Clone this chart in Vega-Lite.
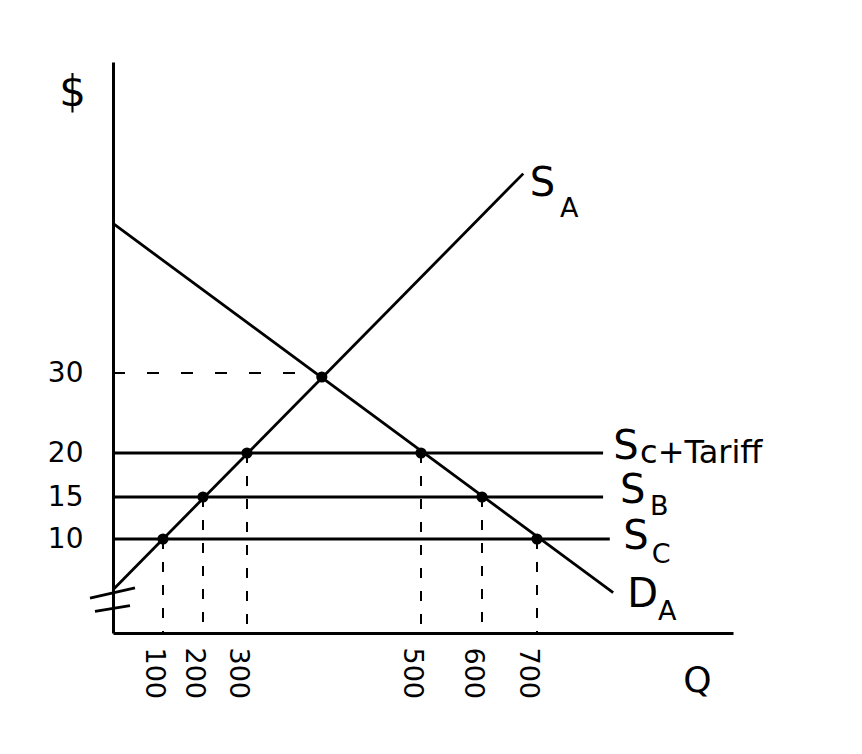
{
  "$schema": "https://vega.github.io/schema/vega-lite/v6.json",
  "width": 620,
  "height": 571,
  "autosize": {"type": "none"},
  "padding": {"left": 113, "top": 62, "right": 129, "bottom": 121},
  "background": "white",
  "config": {
    "view": {"stroke": null},
    "font": "DejaVu Sans",
    "axis": {"grid": false, "ticks": false, "tickSize": 0, "domainColor": "black", "domainWidth": 3, "labelColor": "black", "titleColor": "black", "labelFont": "DejaVu Sans", "titleFont": "DejaVu Sans", "titleFontWeight": "normal"}
  },
  "datasets": {
    "curves": [
      {"series": "S_A", "q": 0, "p": 4.6},
      {"series": "S_A", "q": 675, "p": 55},
      {"series": "D_A", "q": 0, "p": 48.75},
      {"series": "D_A", "q": 836, "p": 4.3},
      {"series": "Sc+Tariff", "q": 0, "p": 20},
      {"series": "Sc+Tariff", "q": 818, "p": 20},
      {"series": "S_B", "q": 0, "p": 15},
      {"series": "S_B", "q": 818, "p": 15},
      {"series": "S_C", "q": 0, "p": 10},
      {"series": "S_C", "q": 830, "p": 10}
    ],
    "drops": [
      {"q": 100, "p": 10},
      {"q": 200, "p": 15},
      {"q": 300, "p": 20},
      {"q": 500, "p": 20},
      {"q": 600, "p": 15},
      {"q": 700, "p": 10}
    ],
    "equilibrium": [{"q": 380, "p": 30}],
    "dots": [
      {"q": 100, "p": 10},
      {"q": 200, "p": 15},
      {"q": 300, "p": 20},
      {"q": 386, "p": 29.5},
      {"q": 500, "p": 20},
      {"q": 600, "p": 15},
      {"q": 700, "p": 10}
    ],
    "breaks": [
      {"q": -46, "p": 3.7, "q2": 44, "p2": 4.8},
      {"q": -36, "p": 2.3, "q2": 34, "p2": 2.9}
    ],
    "labels": [
      {"t": "S", "kind": "main", "q": 687, "p": 53.75},
      {"t": "A", "kind": "sub", "q": 741, "p": 50.6},
      {"t": "S", "kind": "main", "q": 836, "p": 20.8},
      {"t": "c+Tariff", "kind": "tail", "q": 884, "p": 20},
      {"t": "S", "kind": "main", "q": 848, "p": 15.7},
      {"t": "B", "kind": "sub", "q": 902, "p": 13.8},
      {"t": "S", "kind": "main", "q": 854, "p": 10.2},
      {"t": "C", "kind": "sub", "q": 905, "p": 8.3},
      {"t": "D", "kind": "main", "q": 861, "p": 4.0},
      {"t": "A", "kind": "sub", "q": 916, "p": 2.2}
    ]
  },
  "encoding": {
    "x": {
      "field": "q", "type": "quantitative",
      "scale": {"domain": [0, 100, 200, 300, 500, 600, 700, 1050], "range": [0, 50, 90, 134, 308, 369, 424, 620], "nice": false, "zero": false},
      "axis": {"values": [100, 200, 300, 500, 600, 700], "labelAngle": 90, "labelAlign": "left", "labelBaseline": "middle", "labelFontSize": 27, "labelPadding": 14, "labelOffset": -10, "title": "Q", "titleFontSize": 36, "titleAngle": 0, "titleX": 584, "titleY": 47, "titleAlign": "center", "titleBaseline": "middle", "labelOverlap": false, "labelFlush": false}
    },
    "y": {
      "field": "p", "type": "quantitative",
      "scale": {"domain": [0, 10, 15, 20, 30, 69], "range": [571, 477, 435, 391, 311, 0], "nice": false, "zero": false},
      "axis": {"values": [10, 15, 20, 30], "labelFontSize": 28, "labelPadding": 30, "labelOverlap": false, "labelFlush": false, "title": "$", "titleFontSize": 42, "titleAngle": 0, "titleX": -41, "titleY": 30, "titleAlign": "center", "titleBaseline": "middle"}
    }
  },
  "layer": [
    {
      "data": {"name": "drops"},
      "mark": {"type": "rule", "color": "black", "strokeWidth": 2, "strokeDash": [10, 13]},
      "encoding": {"y2": {"datum": 0}}
    },
    {
      "data": {"name": "equilibrium"},
      "mark": {"type": "rule", "color": "black", "strokeWidth": 2, "strokeDash": [12, 22]},
      "encoding": {"x": {"datum": 0}, "x2": {"field": "q"}}
    },
    {
      "data": {"name": "curves"},
      "mark": {"type": "line", "color": "black", "strokeWidth": 2.8},
      "encoding": {"detail": {"field": "series"}}
    },
    {
      "data": {"name": "breaks"},
      "mark": {"type": "rule", "color": "black", "strokeWidth": 2.8},
      "encoding": {"x2": {"field": "q2"}, "y2": {"field": "p2"}}
    },
    {
      "data": {"name": "dots"},
      "mark": {"type": "circle", "color": "black", "opacity": 1, "size": 125},
      "encoding": {}
    },
    {
      "data": {"name": "labels"},
      "transform": [{"filter": "datum.kind === 'main'"}],
      "mark": {"type": "text", "align": "left", "baseline": "middle", "fontSize": 40, "color": "black"},
      "encoding": {"text": {"field": "t"}}
    },
    {
      "data": {"name": "labels"},
      "transform": [{"filter": "datum.kind === 'sub'"}],
      "mark": {"type": "text", "align": "left", "baseline": "middle", "fontSize": 27, "color": "black"},
      "encoding": {"text": {"field": "t"}}
    },
    {
      "data": {"name": "labels"},
      "transform": [{"filter": "datum.kind === 'tail'"}],
      "mark": {"type": "text", "align": "left", "baseline": "middle", "fontSize": 32, "color": "black"},
      "encoding": {"text": {"field": "t"}}
    }
  ]
}
